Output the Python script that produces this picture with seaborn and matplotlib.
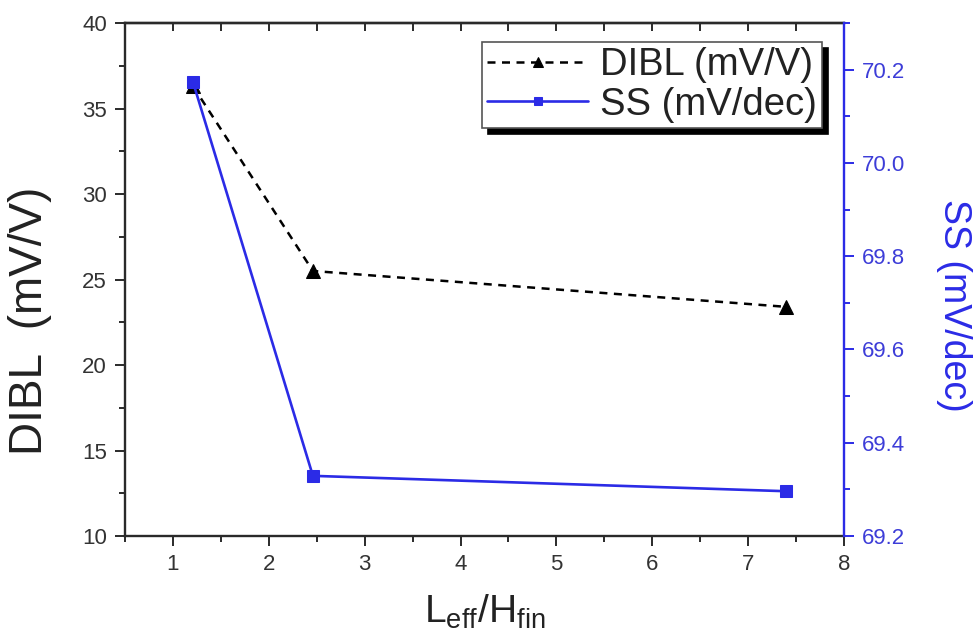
import numpy as np
import pandas as pd
import matplotlib
matplotlib.use('Agg')
import matplotlib.pyplot as plt
import seaborn as sns
from matplotlib.ticker import MultipleLocator

# ---- data ----
ratio = [1.21, 2.46, 7.40]
dibl = [36.3, 25.5, 23.4]
ss = [70.173, 69.329, 69.296]
x_ticks = [1, 2, 3, 4, 5, 6, 7, 8]
dibl_ticks = [10, 15, 20, 25, 30, 35, 40]
ss_ticks = [69.2, 69.4, 69.6, 69.8, 70.0, 70.2]
dibl_label = 'DIBL (mV/V)'
ss_label = 'SS (mV/dec)'

sns.set_theme(style='ticks')
plt.rcParams['font.family'] = ['Liberation Sans', 'DejaVu Sans']
plt.rcParams['mathtext.default'] = 'regular'

DARK = '#2a2a2a'
BLUE = '#2b2be6'
BLUE_TXT = '#3d3dd8'

fig = plt.figure(figsize=(9.78, 6.43), dpi=100)
ax = fig.add_axes([0.1278, 0.1664, 0.7352, 0.7978])
ax2 = ax.twinx()

df1 = pd.DataFrame({'x': ratio, 'y': dibl})
df2 = pd.DataFrame({'x': ratio, 'y': ss})
sns.lineplot(data=df1, x='x', y='y', ax=ax, color='black', linestyle='--',
             marker='^', markersize=9.5, linewidth=1.8, markeredgecolor='black',
             legend=False)
sns.lineplot(data=df2, x='x', y='y', ax=ax2, color=BLUE, marker='s',
             markersize=8, linewidth=1.9, markeredgecolor=BLUE, legend=False)
l1 = ax.lines[0]
l1.set_dashes([3.2, 2.6])
l2 = ax2.lines[0]

ax.set_xlim(0.5, 8)
ax.set_ylim(10, 40)
ax2.set_ylim(69.2, 70.3)

ax.set_xticks(x_ticks)
ax.set_xticklabels([str(t) for t in x_ticks])
ax.set_yticks(dibl_ticks)
ax.set_yticklabels([str(t) for t in dibl_ticks])
ax2.set_yticks(ss_ticks)
ax2.set_yticklabels([f'{t:.1f}' for t in ss_ticks])
ax.xaxis.set_minor_locator(MultipleLocator(0.5))
ax.yaxis.set_minor_locator(MultipleLocator(2.5))
ax2.yaxis.set_minor_locator(MultipleLocator(0.1))

for s in ['left', 'bottom', 'top']:
    ax.spines[s].set_color(DARK)
    ax.spines[s].set_linewidth(1.7)
ax.spines['right'].set_visible(False)
for s in ['left', 'bottom', 'top']:
    ax2.spines[s].set_visible(False)
ax2.spines['right'].set_color(BLUE)
ax2.spines['right'].set_linewidth(1.7)

ax.tick_params(axis='both', which='major', direction='out', length=7,
               width=1.4, color=DARK, labelcolor='#333333', labelsize=16)
ax.tick_params(axis='both', which='minor', direction='out', length=4,
               width=1.4, color=DARK)
ax.tick_params(axis='x', which='major', pad=6)
ax.tick_params(axis='y', which='major', pad=6)
ax2.tick_params(axis='y', which='major', direction='out', length=7,
                width=1.4, color=BLUE, labelcolor=BLUE_TXT, labelsize=16,
                pad=6)
ax2.tick_params(axis='y', which='minor', direction='out', length=4,
                width=1.4, color=BLUE)

# top ticks pointing inward
sec = ax.secondary_xaxis('top')
sec.set_xticks(x_ticks)
sec.xaxis.set_minor_locator(MultipleLocator(0.5))
sec.tick_params(axis='x', which='both', direction='in', length=5.5,
                width=1.4, color=DARK, labeltop=False)
sec.spines['top'].set_color(DARK)
sec.spines['top'].set_linewidth(1.7)

ax.set_xlabel(r'$L_{eff}/H_{fin}$', fontsize=28, color='#222222', labelpad=13)
ax.set_ylabel('DIBL  (mV/V)', fontsize=33, color='#222222')
ax.yaxis.label.set_ha('center')
ax.yaxis.label.set_va('center')
ax.yaxis.set_label_coords(-0.132, 0.42)
ax2.set_ylabel(ss_label, fontsize=27, color=BLUE, rotation=270)
ax2.yaxis.label.set_ha('center')
ax2.yaxis.label.set_va('center')
ax2.yaxis.set_label_coords(1.153, 0.45)

leg = ax2.legend(handles=[l1, l2], labels=[dibl_label, ss_label],
                 loc='upper right', bbox_to_anchor=(0.969, 0.963),
                 fontsize=27.5, frameon=True, fancybox=False, edgecolor='#555555',
                 framealpha=1, handlelength=2.65, handletextpad=0.3,
                 labelspacing=0.1, borderpad=0.13, borderaxespad=0,
                 markerscale=0.75,
                 shadow={'ox': 4.3, 'oy': -4.3, 'facecolor': 'black',
                         'edgecolor': 'black', 'alpha': 1})
leg.get_frame().set_linewidth(1.2)
for t in leg.get_texts():
    t.set_color('#222222')

fig.savefig('out.png', dpi=100)
